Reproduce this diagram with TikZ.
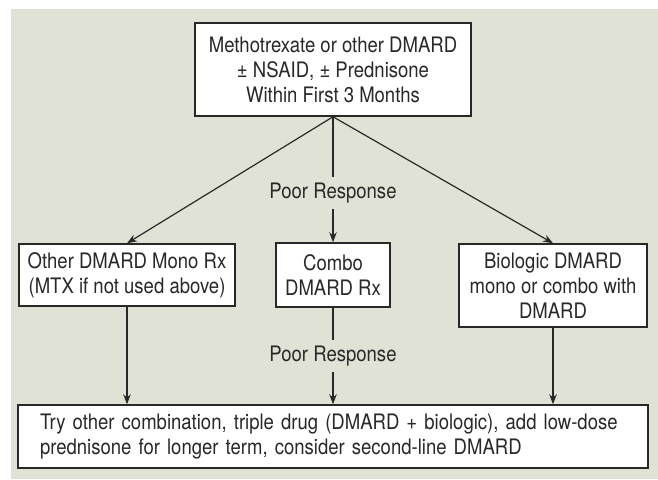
\documentclass[tikz,border=0pt]{standalone}
\usepackage{fontspec}
\setmainfont{TeX Gyre Heros}[FakeStretch=0.87]
\usetikzlibrary{arrows.meta,backgrounds}
\definecolor{panelgray}{RGB}{225, 226, 214}
\definecolor{inkgray}{RGB}{40, 40, 40}
\definecolor{white}{RGB}{255, 255, 255}

\begin{document}
\begin{tikzpicture}[
        x=1pt, y=-1pt,
        font=\fontsize{21.3}{25}\selectfont,
        text=inkgray,
        stepbox/.style={
            draw=inkgray,
            line width=1.5pt,
            fill=white,
            align=center,
            inner sep=0pt
        },
        flow/.style={
            draw=inkgray,
            line width=1.2pt,
            -{Stealth[length=10pt,width=7.5pt]}
        },
        response/.style={
            fill=panelgray,
            inner xsep=2pt,
            inner ysep=6pt
        }
    ]

    % page and shaded panel
    \useasboundingbox (0,0) rectangle (658,479);
    \fill[panelgray] (11,9) rectangle (658,479);

    % treatment boxes
    \node[stepbox, minimum width=276pt, minimum height=93pt] (start) at (333,69.5)
        {Methotrexate or other DMARD\\ ± NSAID, ± Prednisone\\ Within First 3 Months};
    \node[stepbox, minimum width=216pt, minimum height=62pt] (mono) at (127,275)
        {Other DMARD Mono Rx\\ (MTX if not used above)};
    \node[stepbox, minimum width=114pt, minimum height=64pt] (combo) at (333,275)
        {Combo\\ DMARD Rx};
    \node[stepbox, minimum width=188pt, minimum height=83pt] (bio) at (553,285.5)
        {Biologic DMARD\\ mono or combo with\\ DMARD};
    \node[stepbox, minimum width=630pt, minimum height=63pt, align=left,
          text width=586pt] (later) at (333,436.5)
        {Try other combination, triple drug (DMARD + biologic), add low-dose\\
         prednisone for longer term, consider second-line DMARD};

    % connectors
    \draw[flow] (start.south) -- (mono.north);
    \draw[flow] (start.south) -- (bio.north);
    \draw[flow] (start.south) -- node[response, pos=0.61] (poor1) {Poor Response} (combo.north);
    \draw[flow] (combo.south) -- node[response, pos=0.5] (poor2) {Poor Response} (later.north -| combo.south);
    \draw[flow] (mono.south) -- (later.north -| mono.south);
    \draw[flow] (bio.south) -- (later.north -| bio.south);
\end{tikzpicture}
\end{document}
